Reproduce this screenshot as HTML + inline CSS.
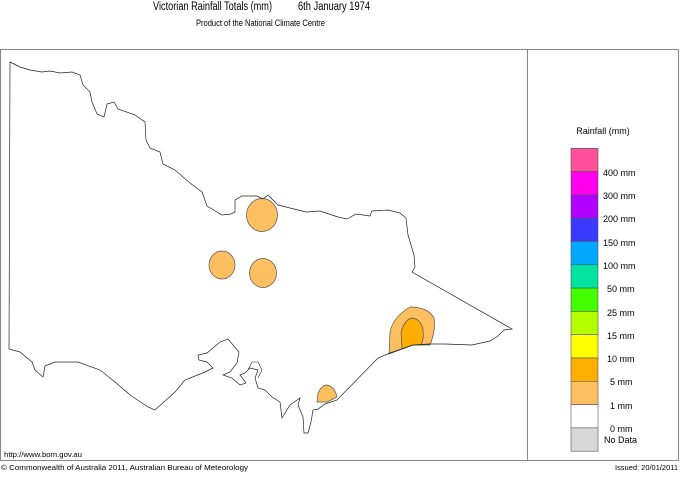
<!DOCTYPE html>
<html><head><meta charset="utf-8"><style>
body{margin:0;background:#fff;width:680px;height:473px;overflow:hidden;font-family:"Liberation Sans",Arial,sans-serif}
</style></head><body>
<svg width="680" height="473" xmlns="http://www.w3.org/2000/svg" font-family="Liberation Sans, Arial, sans-serif">
<rect width="680" height="473" fill="#fff"/>
<text x="153" y="10" font-size="11.5" textLength="119" lengthAdjust="spacingAndGlyphs">Victorian Rainfall Totals (mm)</text>
<text x="298" y="10" font-size="11.5" textLength="72" lengthAdjust="spacingAndGlyphs">6th January 1974</text>
<text x="196" y="26" font-size="9" textLength="129" lengthAdjust="spacingAndGlyphs">Product of the National Climate Centre</text>
<rect x="0.5" y="49.5" width="678" height="411" fill="none" stroke="#888"/>
<line x1="527.5" y1="49" x2="527.5" y2="461" stroke="#888"/>
<!-- blobs -->
<ellipse cx="262" cy="215" rx="15.5" ry="16.5" fill="#fdbf5f" stroke="#555" stroke-width="0.7"/>
<ellipse cx="222" cy="265" rx="13" ry="14" fill="#fdbf5f" stroke="#555" stroke-width="0.7"/>
<ellipse cx="263" cy="273" rx="13.5" ry="14.5" fill="#fdbf5f" stroke="#555" stroke-width="0.7"/>
<path d="M389,354 L390,332 Q393,317 410,307 Q428,307 434,318 Q436,330 430,345 L413,345 Z" fill="#fdbf5f" stroke="#555" stroke-width="0.7"/>
<path d="M402,349 L401,333 Q404,320 412,318 Q421,319 423,330 Q424,340 421,345 L413,345 Z" fill="#ffad00" stroke="#555" stroke-width="0.7"/>
<path d="M317,402 L318,393 Q322,385 327,385 Q335,387 337,397 L327,402 Z" fill="#fdbf5f" stroke="#555" stroke-width="0.7"/>
<!-- outline -->
<path fill="none" stroke="#222" stroke-width="0.7" d="M10,62 L20,67 L30,70 L42,72 L50,71 L60,73 L72,72 L80,75 L83,85 L90,92 L92,102 L97,114 L104,117 L107,104 L114,102 L118,109 L135,115 L145,122 L146,140 L150,148 L160,152 L163,164 L175,170 L190,183 L202,192 L207,206 L222,215 L231,214 L235,212 L235,200 L242,196 L257,196 L263,199 L268,195 L278,205 L290,208 L306,212 L320,211 L338,217 L347,219 L356,214 L370,216 L372,211 L388,210 L400,213 L406,218 L408,235 L414,255 L415,267 L412,272 L512,329 L504,330 L498,336 L490,341 L472,345 L445,344 L430,344 L413,345 L390,353 L378,358 L337,400 L325,404 L318,409 L313,410 L311,422 L308,433 L304,433 L303,417 L298,405 L300,398 L290,405 L282,418 L280,402 L272,397 L265,390 L258,388 L255,378 L258,370 L250,368 L245,373 L240,375 L246,383 L240,385 L232,378 L223,375 L230,372 L237,363 L239,352 L233,345 L228,339 L220,342 L207,353 L198,355 L199,360 L207,362 L213,368 L205,372 L185,380 L175,392 L155,410 L148,407 L130,395 L115,382 L100,370 L78,362 L55,362 L45,366 L43,377 L35,370 L32,362 L20,352 L9,349 Z"/>
<path fill="none" stroke="#222" stroke-width="0.6" d="M248,370 L252,362 L258,362 L262,370 L258,378"/>
<text x="4" y="457" font-size="7.5" textLength="78" lengthAdjust="spacingAndGlyphs">http://www.bom.gov.au</text>
<text x="1" y="470" font-size="7.5" textLength="247" lengthAdjust="spacingAndGlyphs">© Commonwealth of Australia 2011, Australian Bureau of Meteorology</text>
<text x="615" y="470" font-size="7.5" textLength="63" lengthAdjust="spacingAndGlyphs">Issued: 20/01/2011</text>
<!-- legend -->
<text x="603" y="134" font-size="9" text-anchor="middle">Rainfall (mm)</text>
<g stroke="#555" stroke-width="0.6">
<rect x="571" y="148.3" width="27" height="23.3" fill="#ff4e9a"/>
<rect x="571" y="171.6" width="27" height="23.3" fill="#ff00ee"/>
<rect x="571" y="194.9" width="27" height="23.3" fill="#b000ff"/>
<rect x="571" y="218.2" width="27" height="23.3" fill="#3a3aff"/>
<rect x="571" y="241.5" width="27" height="23.3" fill="#00a8ff"/>
<rect x="571" y="264.8" width="27" height="23.3" fill="#00e4a0"/>
<rect x="571" y="288.1" width="27" height="23.3" fill="#44ff00"/>
<rect x="571" y="311.4" width="27" height="23.3" fill="#b4ff00"/>
<rect x="571" y="334.7" width="27" height="23.3" fill="#ffff00"/>
<rect x="571" y="358" width="27" height="23.3" fill="#ffad00"/>
<rect x="571" y="381.3" width="27" height="23.3" fill="#fdbf5f"/>
<rect x="571" y="404.6" width="27" height="23.3" fill="#ffffff"/>
<rect x="571" y="427.9" width="27" height="23.3" fill="#d8d8d8"/>
</g>
<g font-size="9">
<text x="603" y="176">400 mm</text>
<text x="603" y="199">300 mm</text>
<text x="603" y="222">200 mm</text>
<text x="603" y="246">150 mm</text>
<text x="603" y="269">100 mm</text>
<text x="607" y="292">50 mm</text>
<text x="607" y="316">25 mm</text>
<text x="607" y="339">15 mm</text>
<text x="607" y="362">10 mm</text>
<text x="610" y="385">5 mm</text>
<text x="610" y="409">1 mm</text>
<text x="610" y="432">0 mm</text>
<text x="604" y="443">No Data</text>
</g>
</svg>
</body></html>
